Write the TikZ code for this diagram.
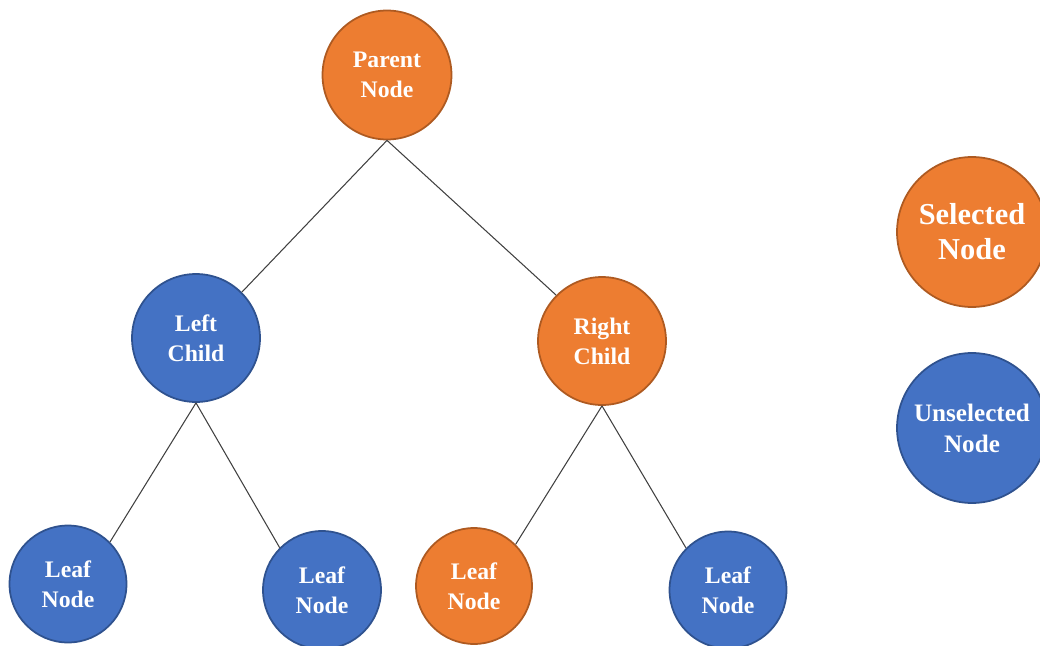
\documentclass[tikz,border=0pt]{standalone}
\usepackage{fontspec}
\setmainfont{Liberation Serif}
\definecolor{selfill}{HTML}{ED7D31}
\definecolor{seldraw}{HTML}{AE5A21}
\definecolor{unselfill}{HTML}{4472C4}
\definecolor{unseldraw}{HTML}{2F528F}
\tikzset{
  treenode/.style={circle, line width=1pt, text=white, align=center,
    inner sep=0pt, font=\bfseries\fontsize{13.5}{17}\selectfont},
  sel/.style={treenode, fill=selfill, draw=seldraw},
  unsel/.style={treenode, fill=unselfill, draw=unseldraw},
  edge/.style={line width=0.6pt, draw=black!75}
}
\begin{document}
\begin{tikzpicture}[x=0.02cm, y=-0.02cm]
    \useasboundingbox (0,0) rectangle (1040,645);
    % tree
    \node[sel, minimum size=2.58cm]   (parent) at (387, 75)  {Parent\\Node};
    \node[unsel, minimum size=2.56cm] (lchild) at (196, 338) {Left\\Child};
    \node[sel, minimum size=2.56cm]   (rchild) at (602, 341) {Right\\Child};
    \node[unsel, minimum size=2.34cm] (leafa)  at (68, 584)  {Leaf\\Node};
    \node[unsel, minimum size=2.36cm] (leafb)  at (322, 590) {Leaf\\Node};
    \node[sel, minimum size=2.32cm]   (leafc)  at (474, 586) {Leaf\\Node};
    \node[unsel, minimum size=2.34cm] (leafd)  at (728, 590) {Leaf\\Node};
    \draw[edge] (parent.south) -- (lchild.north east)
                (parent.south) -- (rchild.north west)
                (lchild.south) -- (leafa.north east)
                (lchild.south) -- (leafb.north west)
                (rchild.south) -- (leafc.north east)
                (rchild.south) -- (leafd.north west);
    % key
    \node[sel, minimum size=3cm, font=\bfseries\fontsize{17.3}{20}\selectfont]
        (selkey) at (972, 232) {Selected\\Node};
    \node[unsel, minimum size=3cm, font=\bfseries\fontsize{14.3}{17.6}\selectfont]
        (unselkey) at (972, 428) {Unselected\\Node};
\end{tikzpicture}
\end{document}
